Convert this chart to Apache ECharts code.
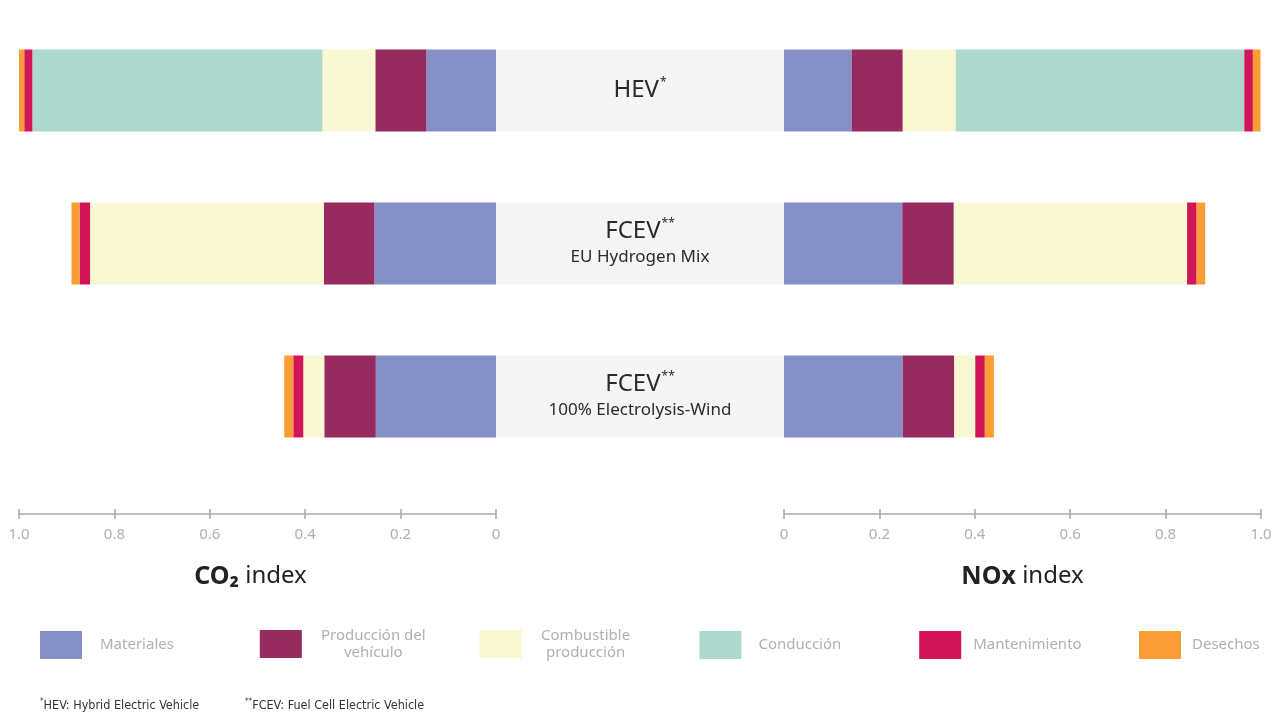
<!DOCTYPE html>
<html>
<head>
<meta charset="utf-8">
<script src="https://cdn.jsdelivr.net/npm/echarts@6/dist/echarts.min.js"></script>
<style>html,body{margin:0;padding:0;background:#fff}#c{width:1280px;height:720px}</style>
</head>
<body>
<div id="c"></div>
<script>
// ---- data ----
const categories = ['HEV', 'FCEV EU Hydrogen Mix', 'FCEV 100% Electrolysis-Wind'];
const vehicleLabels = ['HEV', 'FCEV', 'FCEV'];
const vehicleMarks = ['*', '**', '**'];
const vehicleSubs = ['', 'EU Hydrogen Mix', '100% Electrolysis-Wind'];
const stageNames = ['Materiales', 'Producción del vehículo', 'Combustible producción', 'Conducción', 'Mantenimiento', 'Desechos'];
const tickValues = [0, 0.2, 0.4, 0.6, 0.8, 1.0];

const co2Materiales    = [0.146, 0.255, 0.252];
const co2Produccion    = [0.107, 0.106, 0.108];
const co2Combustible   = [0.111, 0.490, 0.044];
const co2Conduccion    = [0.608, 0, 0];
const co2Mantenimiento = [0.017, 0.022, 0.021];
const co2Desechos      = [0.017, 0.017, 0.019];

const noxMateriales    = [0.142, 0.248, 0.249];
const noxProduccion    = [0.107, 0.108, 0.108];
const noxCombustible   = [0.111, 0.489, 0.044];
const noxConduccion    = [0.605, 0, 0];
const noxMantenimiento = [0.018, 0.020, 0.020];
const noxDesechos      = [0.016, 0.018, 0.019];

const footnotes = [['*', 'HEV: Hybrid Electric Vehicle'], ['**', 'FCEV: Fuel Cell Electric Vehicle']];

// ---- styles ----
const stageColors = ['#858fc6', '#972a5f', '#f8f8d2', '#acd9cb', '#d31558', '#f99d34'];
const FONT = "'Noto Sans', 'Open Sans', sans-serif";
const co2Sets = [co2Materiales, co2Produccion, co2Combustible, co2Conduccion, co2Mantenimiento, co2Desechos];
const noxSets = [noxMateriales, noxProduccion, noxCombustible, noxConduccion, noxMantenimiento, noxDesechos];

const chart = echarts.init(document.getElementById('c'), null, {renderer: 'canvas'});

const gridTop = 14, gridH = 459;
const grids = [
  {left: 19, width: 477, top: gridTop, height: gridH},
  {left: 496, width: 288, top: gridTop, height: gridH},
  {left: 784, width: 477, top: gridTop, height: gridH}
];

function mainAxis(gridIndex, inverse, nameRich, namePad) {
  return {
    type: 'value', gridIndex, min: 0, max: 1, interval: 0.2, inverse,
    position: 'bottom', offset: 41,
    splitLine: {show: false},
    axisLine: {show: true, lineStyle: {color: '#a8a8a8', width: 1.5}},
    axisTick: {show: true, inside: true, length: 5, lineStyle: {color: '#a8a8a8', width: 1.5}},
    axisLabel: {color: '#b0b0b0', fontSize: 15, fontFamily: FONT, margin: 13,
      formatter: v => v === 0 ? '0' : v.toFixed(1)},
    name: nameRich, nameLocation: 'middle', nameGap: 50,
    nameTextStyle: {
      padding: namePad,
      rich: {
        b: {fontSize: 25, fontWeight: 'bold', color: '#222', fontFamily: FONT},
        n: {fontSize: 24, color: '#222', fontFamily: FONT}
      }
    }
  };
}
function tickAxis(gridIndex, inverse) {
  return {
    type: 'value', gridIndex, min: 0, max: 1, interval: 0.2, inverse,
    position: 'bottom', offset: 41,
    splitLine: {show: false},
    axisLine: {show: false},
    axisTick: {show: true, inside: false, length: 5, lineStyle: {color: '#a8a8a8', width: 1.5}},
    axisLabel: {show: false}
  };
}

const xAxes = [
  mainAxis(0, true, '{b|CO₂}{n| index}', [0, 14, 0, 0]),
  tickAxis(0, true),
  {type: 'value', gridIndex: 1, min: 0, max: 1, show: false},
  mainAxis(2, false, '{b|NOx}{n| index}', [0, 0, 0, 0]),
  tickAxis(2, false)
];
const yAxes = [0, 1, 2].map(g => ({
  type: 'category', gridIndex: g, data: categories, inverse: true, show: false
}));

const series = [];
stageNames.forEach((name, i) => {
  series.push({
    name, type: 'bar', stack: 'co2', xAxisIndex: 0, yAxisIndex: 0,
    barWidth: 82, data: co2Sets[i], itemStyle: {color: stageColors[i]}
  });
  series.push({
    name, type: 'bar', stack: 'nox', xAxisIndex: 3, yAxisIndex: 2,
    barWidth: 82, data: noxSets[i], itemStyle: {color: stageColors[i]}
  });
});
series.push({
  name: 'vehicle', type: 'bar', xAxisIndex: 2, yAxisIndex: 1, barWidth: 82,
  data: categories.map(() => 1), itemStyle: {color: '#f5f5f5'}, silent: true,
  label: {
    show: true, position: 'inside',
    formatter: p => {
      const i = p.dataIndex;
      let s = '{t|' + vehicleLabels[i] + '}{s|' + vehicleMarks[i] + '}';
      if (vehicleSubs[i]) s += '\n{u|' + vehicleSubs[i] + '}';
      return s;
    },
    rich: {
      t: {fontSize: 24, color: '#2a2a2a', fontFamily: FONT, lineHeight: 28},
      s: {fontSize: 12, color: '#2a2a2a', fontFamily: FONT, lineHeight: 12, verticalAlign: 'top', padding: [0, 0, 0, 1]},
      u: {fontSize: 17, color: '#2a2a2a', fontFamily: FONT, lineHeight: 24}
    }
  }
});

const legendDisplay = {
  'Producción del vehículo': '{c|Producción del}\n{c|vehículo}',
  'Combustible producción': '{c|Combustible}\n{c|producción}'
};
const legendPad = [13, 9, 11, 12, 7, 6];
const legends = stageNames.map((n, i) => ({
  data: [n], left: 40 + i * 219.8, top: legendDisplay[n] ? 628 : 631, padding: 0,
  icon: 'rect', itemWidth: 42, itemHeight: 28, selectedMode: false,
  formatter: name => legendDisplay[name] || name,
  textStyle: {
    color: '#b0b0b0', fontSize: 15, fontFamily: FONT, padding: [0, 0, 0, legendPad[i]],
    rich: {c: {color: '#b0b0b0', fontSize: 15, fontFamily: FONT, lineHeight: 17, align: 'center', width: legendDisplay[n] ? (n.startsWith('Prod') ? 115 : 96) : undefined}}
  }
}));

const NARROW = "'Liberation Sans Narrow', 'DejaVu Sans Condensed', 'Roboto', sans-serif";
const titles = footnotes.map((f, i) => ({
  text: '{s|' + f[0] + '}{n|' + f[1] + '}',
  left: i === 0 ? 40 : 245, top: 698, padding: 0,
  textStyle: {
    fontWeight: 'normal',
    rich: {
      s: {fontSize: 8, color: '#333', fontFamily: NARROW, fontWeight: 'normal', verticalAlign: 'top', lineHeight: 8},
      n: {fontSize: 12.5, color: '#333', fontFamily: NARROW, fontWeight: 'normal', lineHeight: 16}
    }
  }
}));

chart.setOption({
  animation: false,
  backgroundColor: '#fff',
  title: titles,
  legend: legends,
  grid: grids,
  xAxis: xAxes,
  yAxis: yAxes,
  series
});
</script>
</body>
</html>
